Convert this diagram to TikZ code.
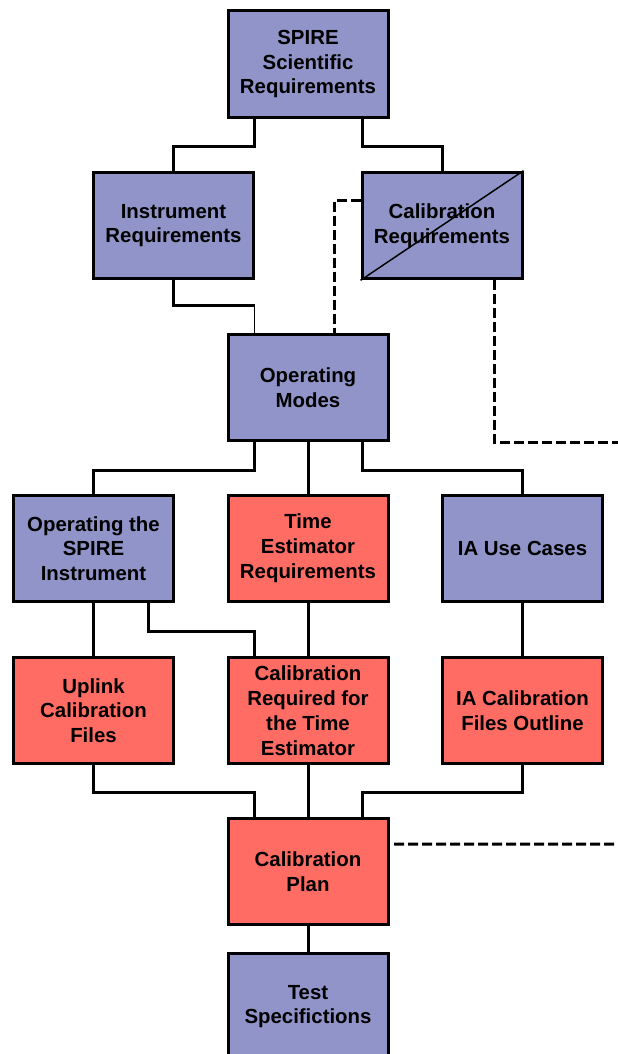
\documentclass[tikz,border=0pt]{standalone}
\usepackage{fontspec}
\setmainfont{Liberation Sans}
\definecolor{boxblue}{RGB}{144,148,200}
\definecolor{boxred}{RGB}{255,108,100}

\begin{document}
\begin{tikzpicture}[x=0.75pt, y=-0.75pt,
    blu/.style={draw, line width=2.25pt, fill=boxblue, minimum width=120pt, minimum height=80pt,
        inner sep=0pt, align=center, font=\bfseries\fontsize{15.3}{18.6}\selectfont},
    ros/.style={blu, fill=boxred},
    conn/.style={line width=2.25pt},
    tratt/.style={line width=2.25pt, dash pattern=on 7.5pt off 3pt}]
    \useasboundingbox (0,0) rectangle (618,1054);

    % Riquadri del diagramma
    \node[blu] (spire) at (308,64) {SPIRE\\Scientific\\Requirements};
    \node[blu] (instr) at (173.5,225.5) {Instrument\\Requirements};
    \node[blu] (calreq) at (442,225.5) {Calibration\\Requirements};
    \node[blu] (opmodes) at (308,387.5) {Operating\\Modes};
    \node[blu] (opspire) at (93.5,548.5) {Operating the\\SPIRE\\Instrument};
    \node[ros] (timeest) at (308,548.5) {Time\\Estimator\\Requirements};
    \node[blu] (iause) at (522.5,548.5) {IA Use Cases};
    \node[ros] (uplink) at (93.5,710.5) {Uplink\\Calibration\\Files};
    \node[ros] (calte) at (308,710.5) {Calibration\\Required for\\the Time\\Estimator};
    \node[ros] (iacal) at (522.5,710.5) {IA Calibration\\Files Outline};
    \node[ros] (calplan) at (308,871.5) {Calibration\\Plan};
    \node[blu] (testspec) at (308,1006.5) {Test\\Specifictions};

    % Linea diagonale sui requisiti di calibrazione
    \draw[line width=1.1pt] (calreq.south west) -- (calreq.north east);

    % Collegamenti continui
    \draw[conn] ([xshift=-40.5pt]spire.south) -- ++(0,28) -| (instr.north);
    \draw[conn] ([xshift=40.5pt]spire.south) -- ++(0,28) -| (calreq.north);
    \coordinate (k) at ([xshift=-40pt,yshift=20.6pt]opmodes.north);
    \draw[conn] (instr.south) |- (k);
    \draw[line width=0.75pt] (k) -- (k |- opmodes.north);
    \draw[conn] ([xshift=-40.5pt]opmodes.south) -- ++(0,28) -| (opspire.north);
    \draw[conn] (opmodes.south) -- (timeest.north);
    \draw[conn] ([xshift=40.5pt]opmodes.south) -- ++(0,28) -| (iause.north);
    \draw[conn] (opspire.south) -- (uplink.north);
    \draw[conn] ([xshift=41.5pt]opspire.south) -- ++(0,28) -| ([xshift=-40.5pt]calte.north);
    \draw[conn] (timeest.south) -- (calte.north);
    \draw[conn] (iause.south) -- (iacal.north);
    \draw[conn] (uplink.south) -- ++(0,27) -| ([xshift=-40.5pt]calplan.north);
    \draw[conn] (calte.south) -- (calplan.north);
    \draw[conn] (iacal.south) -- ++(0,27) -| ([xshift=40.5pt]calplan.north);
    \draw[conn] (calplan.south) -- (testspec.north);

    % Collegamenti tratteggiati
    \coordinate (fine1) at (620,442);
    \coordinate (fine2) at (620,844);
    \draw[tratt] ([yshift=19.1pt]calreq.west) -| ([xshift=19.5pt]opmodes.north);
    \draw[tratt] ([xshift=39pt]calreq.south) |- (fine1);
    \draw[tratt] ([xshift=3.5pt,yshift=20.6pt]calplan.east) -- (fine2);
\end{tikzpicture}
\end{document}
